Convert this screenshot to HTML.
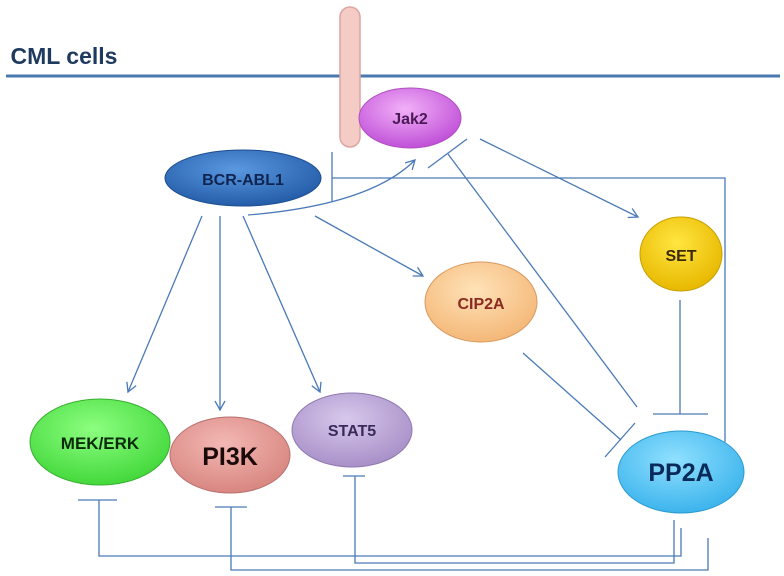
<!DOCTYPE html>
<html><head><meta charset="utf-8"><style>
html,body{margin:0;padding:0;background:#fff;width:784px;height:576px;overflow:hidden}
text{font-family:"Liberation Sans",sans-serif;font-weight:bold;text-anchor:middle}
</style></head><body>
<svg width="784" height="576" viewBox="0 0 784 576" xmlns="http://www.w3.org/2000/svg">
<defs>
<radialGradient id="gJ" cx="45%" cy="35%" r="65%"><stop offset="0" stop-color="#f2b0f8"/><stop offset="1" stop-color="#c050d8"/></radialGradient>
<radialGradient id="gB" cx="45%" cy="35%" r="65%"><stop offset="0" stop-color="#5a98e0"/><stop offset="1" stop-color="#245ca8"/></radialGradient>
<radialGradient id="gS" cx="45%" cy="35%" r="65%"><stop offset="0" stop-color="#ffe640"/><stop offset="1" stop-color="#e8b800"/></radialGradient>
<radialGradient id="gC" cx="45%" cy="35%" r="65%"><stop offset="0" stop-color="#ffe2b8"/><stop offset="1" stop-color="#f4b878"/></radialGradient>
<radialGradient id="gM" cx="45%" cy="35%" r="65%"><stop offset="0" stop-color="#8cff80"/><stop offset="1" stop-color="#44d83c"/></radialGradient>
<radialGradient id="gP" cx="45%" cy="35%" r="65%"><stop offset="0" stop-color="#f4b8b4"/><stop offset="1" stop-color="#d88680"/></radialGradient>
<radialGradient id="gT" cx="45%" cy="35%" r="65%"><stop offset="0" stop-color="#d8c8ec"/><stop offset="1" stop-color="#a890c8"/></radialGradient>
<radialGradient id="gA" cx="45%" cy="35%" r="65%"><stop offset="0" stop-color="#90e0ff"/><stop offset="1" stop-color="#3cb4ec"/></radialGradient>
<marker id="ar" markerWidth="12" markerHeight="12" refX="10" refY="6" orient="auto" markerUnits="userSpaceOnUse"><path d="M1,1 L10,6 L1,11" fill="none" stroke="#4a7ab8" stroke-width="1.3"/></marker>
</defs>
<text x="64" y="64" font-size="23" fill="#1f3a5f">CML cells</text>
<line x1="6" y1="76" x2="780" y2="76" stroke="#4a78b0" stroke-width="3"/>
<rect x="340" y="7" width="20" height="140" rx="10" fill="#f5cbc6" stroke="#dca5a2" stroke-width="1.5"/>
<g stroke="#4a7ab8" stroke-width="1.3" fill="none">
<line x1="332" y1="152" x2="332" y2="201"/>
<polyline points="332,178 725,178 725,442"/>
<path d="M248,215 Q370,205 415,160" marker-end="url(#ar)"/>
<line x1="428" y1="168" x2="467" y2="139"/>
<line x1="448" y1="154" x2="637" y2="407"/>
<line x1="480" y1="139" x2="638" y2="217" marker-end="url(#ar)"/>
<line x1="315" y1="216" x2="423" y2="276" marker-end="url(#ar)"/>
<line x1="202" y1="216" x2="128" y2="392" marker-end="url(#ar)"/>
<line x1="220" y1="216" x2="220" y2="410" marker-end="url(#ar)"/>
<line x1="243" y1="216" x2="320" y2="392" marker-end="url(#ar)"/>
<line x1="523" y1="353" x2="621" y2="440"/>
<line x1="605" y1="457" x2="635" y2="423"/>
<line x1="680" y1="300" x2="680" y2="414"/>
<line x1="653" y1="414" x2="708" y2="414"/>
<line x1="78" y1="500" x2="117" y2="500"/>
<polyline points="99,500 99,556 681,556 681,528"/>
<line x1="215" y1="507" x2="247" y2="507"/>
<polyline points="231,507 231,570 708,570 708,538"/>
<line x1="343" y1="476" x2="365" y2="476"/>
<polyline points="355,476 355,563 674,563 674,520"/>
</g>
<ellipse cx="410" cy="118" rx="51" ry="30" fill="url(#gJ)" stroke="#b050c0" stroke-width="1"/>
<text x="410" y="124" font-size="16" fill="#4a1a55">Jak2</text>
<ellipse cx="243" cy="178" rx="78" ry="28" fill="url(#gB)" stroke="#1e4e90" stroke-width="1"/>
<text x="243" y="185" font-size="16" fill="#0f2550">BCR-ABL1</text>
<ellipse cx="681" cy="254" rx="41" ry="37" fill="url(#gS)" stroke="#c8a000" stroke-width="1"/>
<text x="681" y="261" font-size="16" fill="#3a2a00">SET</text>
<ellipse cx="481" cy="302" rx="56" ry="40" fill="url(#gC)" stroke="#d89a60" stroke-width="1"/>
<text x="481" y="309" font-size="16" fill="#8b2a20">CIP2A</text>
<ellipse cx="100" cy="442" rx="70" ry="43" fill="url(#gM)" stroke="#38b030" stroke-width="1"/>
<text x="100" y="449" font-size="17" fill="#0a2a0a">MEK/ERK</text>
<ellipse cx="230" cy="455" rx="60" ry="38" fill="url(#gP)" stroke="#b87070" stroke-width="1"/>
<text x="230" y="465" font-size="25" fill="#1a0a0a">PI3K</text>
<ellipse cx="352" cy="430" rx="60" ry="37" fill="url(#gT)" stroke="#9078b0" stroke-width="1"/>
<text x="352" y="436" font-size="16" fill="#3a2a5a">STAT5</text>
<ellipse cx="681" cy="472" rx="63" ry="41" fill="url(#gA)" stroke="#2a9ad0" stroke-width="1"/>
<text x="681" y="481" font-size="25" fill="#0a2a5a">PP2A</text>
</svg>
</body></html>
